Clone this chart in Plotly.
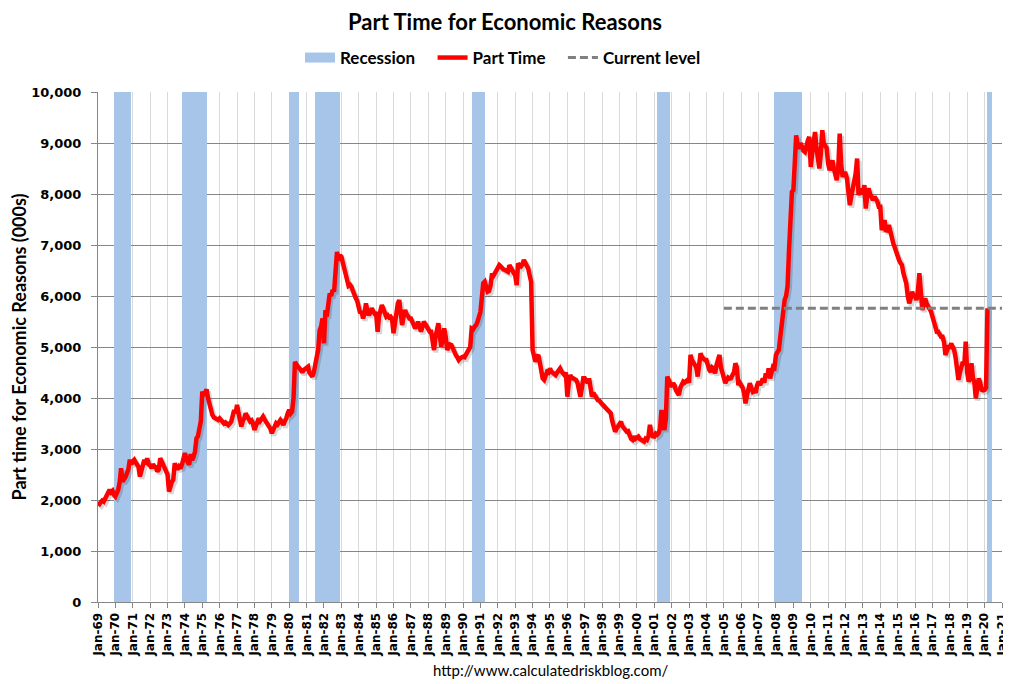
import plotly.graph_objects as go
import pandas as pd

# Part time for economic reasons, thousands, monthly from Jan 1969
pt_1969_1979 = [
    1940, 1920, 1960, 1990, 1970, 2030, 2080, 2120, 2200, 2150, 2180, 2100,
    2070, 2135, 2200, 2350, 2625, 2360, 2400, 2450, 2525, 2600, 2790, 2700,
    2760, 2790, 2740, 2700, 2650, 2460, 2600, 2720, 2790, 2700, 2820, 2700,
    2680, 2625, 2700, 2655, 2640, 2560, 2600, 2820, 2750, 2700, 2655, 2600,
    2500, 2165, 2300, 2350, 2395, 2720, 2650, 2600, 2655, 2620, 2700, 2800,
    2920, 2800, 2750, 2690, 2900, 2780, 2850, 2950, 3210, 3250, 3400, 3540,
    4125, 4050, 4100, 4170, 4000, 3850, 3720, 3670, 3620, 3600, 3580, 3570,
    3600, 3560, 3540, 3500, 3520, 3480, 3470, 3500, 3540, 3650, 3765, 3700,
    3865, 3700, 3600, 3440, 3550, 3600, 3700, 3650, 3600, 3540, 3560, 3500,
    3375, 3450, 3570, 3600, 3550, 3580, 3635, 3580, 3540, 3500, 3450, 3400,
    3310, 3400, 3450, 3505, 3480, 3520, 3570, 3530, 3470, 3550, 3600, 3700,
]
pt_1980s = [
    3765, 3700, 3735, 4000, 4710, 4650, 4600, 4585, 4550, 4500, 4550, 4580,
    4580, 4615, 4500, 4450, 4420, 4500, 4710, 4800, 4940, 5330, 5400, 5560,
    5070, 5725, 5600, 5900, 6050, 6000, 6115, 6085, 6400, 6865, 6700, 6800,
    6770, 6650, 6570, 6400, 6245, 6200, 6220, 6180, 6100, 6050, 5955, 5900,
    5800, 5660, 5700, 5560, 5650, 5855, 5700, 5625, 5680, 5760, 5700, 5650,
    5650, 5300, 5600, 5700, 5820, 5750, 5650, 5595, 5620, 5580, 5595, 5550,
    5270, 5500, 5700, 5850, 5920, 5700, 5430, 5600, 5725, 5650, 5600, 5560,
    5560, 5500, 5450, 5365, 5420, 5495, 5400, 5300, 5400, 5495, 5450, 5400,
    5350, 5300, 5300, 5100, 4940, 5200, 5300, 5465, 5200, 5005, 5200, 5365,
    5200, 4940, 5000, 5050, 5040, 4950, 4900, 4845, 4800, 4745, 4780, 4800,
]
pt_1990s = [
    4810, 4800, 4850, 4940, 4950, 5005, 5365, 5350, 5400, 5430, 5495, 5600,
    5690, 5985, 6250, 6280, 6150, 6085, 6100, 6200, 6440, 6400, 6450, 6500,
    6550, 6605, 6580, 6540, 6520, 6510, 6500, 6475, 6605, 6550, 6500, 6450,
    6400, 6215, 6640, 6600, 6580, 6620, 6705, 6650, 6600, 6540, 6400, 6280,
    4940, 4850, 4710, 4810, 4845, 4700, 4500, 4385, 4355, 4450, 4515, 4500,
    4580, 4515, 4500, 4480, 4450, 4500, 4550, 4580, 4520, 4480, 4450, 4500,
    4025, 4300, 4450, 4400, 4380, 4350, 4355, 4300, 4200, 4025, 4200, 4385,
    4385, 4350, 4300, 4385, 4200, 4025, 4100, 4050, 4000, 3960, 3950, 3900,
    3880, 3850, 3830, 3800, 3760, 3735, 3700, 3550, 3450, 3340, 3400, 3450,
    3500, 3535, 3450, 3400, 3380, 3340, 3350, 3250, 3200, 3180, 3250, 3200,
]
pt_2000s = [
    3220, 3245, 3200, 3180, 3150, 3145, 3200, 3180, 3250, 3475, 3300, 3250,
    3245, 3300, 3280, 3310, 3400, 3765, 3500, 3375, 3600, 4420, 4350, 4300,
    4220, 4290, 4250, 4150, 4095, 4060, 4200, 4250, 4320, 4300, 4320, 4355,
    4300, 4845, 4750, 4700, 4680, 4600, 4420, 4700, 4875, 4800, 4760, 4745,
    4745, 4600, 4550, 4515, 4600, 4580, 4485, 4650, 4810, 4845, 4600, 4500,
    4350, 4290, 4350, 4400, 4380, 4385, 4450, 4500, 4680, 4600, 4255, 4300,
    4250, 4200, 4100, 3895, 4050, 4200, 4290, 4200, 4125, 4150, 4100, 4250,
    4320, 4255, 4300, 4380, 4300, 4485, 4400, 4580, 4385, 4500, 4615, 4600,
    4845, 4900, 4940, 5200, 5465, 5600, 5920, 6000, 6200, 6900, 7600, 8040,
    8075, 8800, 9150, 8950, 8890, 9000, 8900, 8850, 8825, 9000, 9050, 9120,
]
pt_2010s = [
    8530, 8800, 9000, 9215, 8900, 8600, 8500, 8800, 9250, 9000, 8925, 8900,
    8600, 8465, 8550, 8660, 8500, 8400, 8270, 8500, 9185, 8600, 8335, 8400,
    8400, 8305, 8100, 7780, 7950, 8075, 8200, 8400, 8695, 7975, 8100, 8050,
    8000, 8175, 7715, 7950, 8110, 8000, 7950, 7880, 7950, 7910, 7850, 7750,
    7750, 7290, 7400, 7490, 7260, 7300, 7390, 7250, 7150, 7030, 6950, 6850,
    6770, 6700, 6650, 6605, 6450, 6350, 6245, 6000, 5855, 5950, 6085, 6000,
    6000, 5920, 6100, 6445, 6000, 5725, 5850, 5955, 5850, 5800, 5725, 5700,
    5595, 5500, 5400, 5300, 5300, 5250, 5200, 5200, 5100, 4845, 4950, 5000,
    5000, 5070, 5000, 4940, 4800, 4600, 4355, 4500, 4600, 4710, 4650, 5105,
    4500, 4320, 4400, 4680, 4400, 4300, 3995, 4200, 4385, 4300, 4160, 4150,
]
pt_2020 = [4160, 4200, 5760]

# NBER recessions (first month, last month)
recession_start = ["1969-12", "1973-11", "1980-01", "1981-07", "1990-07", "2001-03", "2007-12", "2020-03"]
recession_end = ["1970-11", "1975-03", "1980-07", "1982-11", "1991-03", "2001-11", "2009-06", "2020-05"]

part_time = pt_1969_1979 + pt_1980s + pt_1990s + pt_2000s + pt_2010s + pt_2020
dates = pd.date_range("1969-01-01", periods=len(part_time), freq="MS")
current_level = part_time[-1]

BLUE = "#A7C5E9"
RED = "#FF0000"
GRAY = "#808080"
PAD = "\u00a0" * 3  # extra room after a legend label

rs = pd.to_datetime(recession_start)
re_ = pd.to_datetime(recession_end) + pd.offsets.MonthBegin(1)
rec_mid = rs + (re_ - rs) / 2
rec_width = [(e - s).total_seconds() * 1000 for s, e in zip(rs, re_)]

fig = go.Figure()
fig.add_trace(go.Bar(
    x=rec_mid, y=[10000] * len(rs), base=0, width=rec_width,
    marker=dict(color=BLUE, line=dict(width=0)),
    showlegend=False, hoverinfo="skip",
))
# legend entry for recession bars
fig.add_trace(go.Scatter(x=[None], y=[None], mode="lines", name="Recession" + PAD,
                         line=dict(color=BLUE, width=13)))
# soft drop shadow under the main line
fig.add_trace(go.Scatter(
    x=dates + pd.Timedelta(days=40), y=[v - 45 for v in part_time], mode="lines",
    line=dict(color="rgba(0,0,0,0.16)", width=5), showlegend=False, hoverinfo="skip",
))
fig.add_trace(go.Scatter(x=dates, y=part_time, mode="lines", name="Part Time" + PAD,
                         line=dict(color=RED, width=4.5)))
fig.add_trace(go.Scatter(x=["2005-01-01", "2021-01-01"], y=[current_level, current_level],
                         mode="lines", name="Current level",
                         line=dict(color=GRAY, width=3, dash="8px,4px")))

# the page body adds an 8px margin, so the figure is 8px smaller than the window
fig.update_layout(
    width=1003, height=676,
    margin=dict(l=90, r=9, t=84, b=82, autoexpand=False),
    plot_bgcolor="white", paper_bgcolor="white",
    bargap=0,
    title=dict(text="<b>Part Time for Economic Reasons</b>", x=(505 - 8) / 1003, xanchor="center",
               y=1 - 14 / 676, yanchor="middle",
               font=dict(family="Lato", size=22, color="black")),
    legend=dict(orientation="h", x=(503 - 98) / 904, xanchor="center",
                y=(602 - 58) / 510, yanchor="middle",
                font=dict(family="Lato", size=17, color="black", weight="bold"),
                itemwidth=30, tracegroupgap=0),
    showlegend=True,
)
fig.update_xaxes(
    type="date", range=["1969-01-01", "2021-01-01"], automargin=False,
    tick0="1969-01-01", dtick="M12", tickformat="%b-%y", tickangle=-90,
    ticks="outside", ticklen=5, tickcolor="#868686",
    showgrid=True, gridcolor="#D9D9D9", gridwidth=1,
    showline=True, linecolor="#868686", linewidth=1,
    tickfont=dict(family="DejaVu Sans", size=12, color="black", weight="bold"),
)
fig.update_yaxes(
    range=[0, 10000], dtick=1000, tickformat=",", automargin=False,
    ticks="outside", ticklen=6, tickcolor="#868686",
    showgrid=True, gridcolor="#868686", gridwidth=1,
    showline=True, linecolor="#868686", linewidth=1,
    tickfont=dict(family="DejaVu Sans", size=13, color="black", weight="bold"),
    ticklabelstandoff=7,
    title=dict(text="<b>Part time for Economic Reasons (000s)</b>", standoff=0,
               font=dict(family="Lato", size=18, color="black")),
)
fig.add_annotation(text="http://www.calculatedriskblog.com/", xref="paper", yref="paper",
                   x=0.5, y=(602 - 670) / 510, xanchor="center", yanchor="middle",
                   showarrow=False, font=dict(family="Lato", size=15, color="black"))

fig.write_html("out.html")
